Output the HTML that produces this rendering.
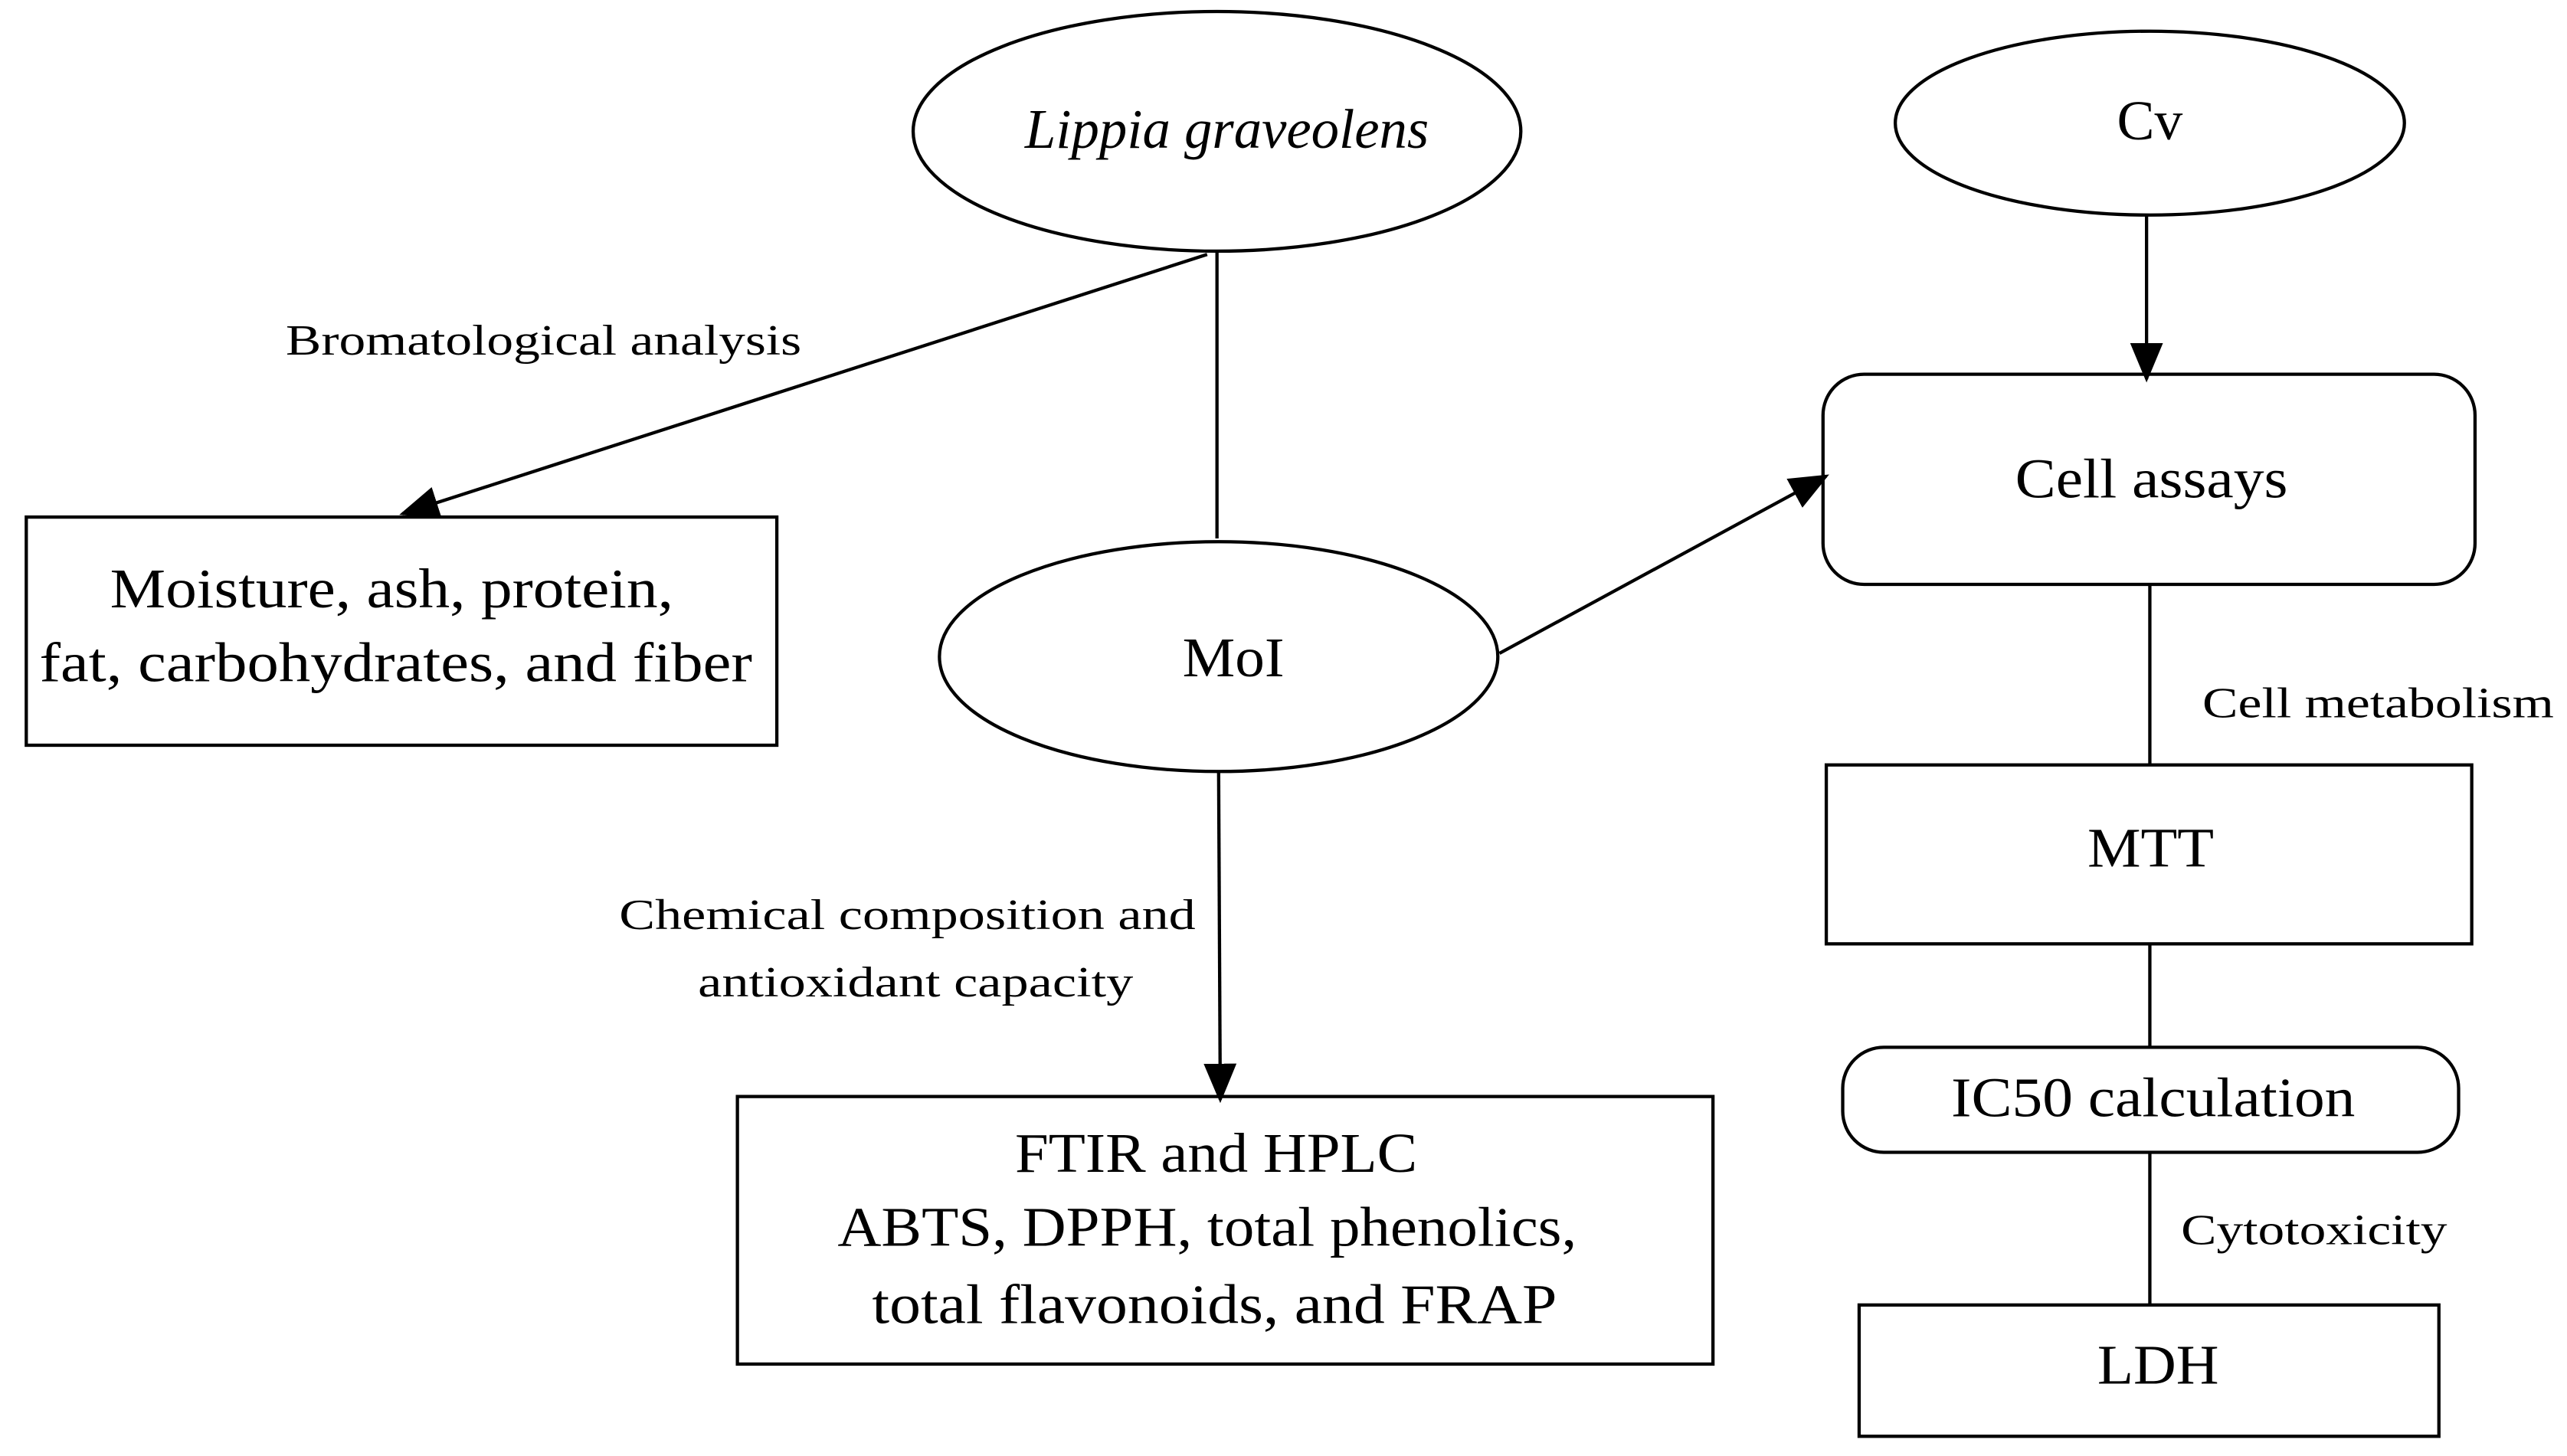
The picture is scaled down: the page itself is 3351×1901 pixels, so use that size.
<!DOCTYPE html>
<html><head><style>html,body{margin:0;padding:0;background:#fff}svg{display:block}</style></head>
<body>
<svg width="3351" height="1901" viewBox="0 0 1563 887" preserveAspectRatio="none" xmlns="http://www.w3.org/2000/svg" font-family="Liberation Serif, serif" fill="none" stroke="#000" stroke-width="2">
<defs>
<marker id="b" markerWidth="24" markerHeight="24" refX="22" refY="12" orient="auto" markerUnits="userSpaceOnUse"><path d="M0,2L24,12L0,22z" fill="#000" stroke="none"/></marker></defs>
<ellipse cx="741" cy="80" rx="185" ry="73"/>
<ellipse cx="1309" cy="75" rx="155" ry="56"/>
<ellipse cx="742" cy="400" rx="170" ry="70"/>
<line x1="741" y1="153" x2="741" y2="328"/>
<line x1="735" y1="155" x2="245" y2="313" marker-end="url(#b)"/>
<line x1="913" y1="398" x2="1112" y2="290" marker-end="url(#b)"/>
<line x1="1307" y1="131" x2="1307" y2="231" marker-end="url(#b)"/>
<line x1="742" y1="470" x2="743" y2="670" marker-end="url(#b)"/>
<rect x="16" y="315" width="457" height="139"/>
<rect x="1110" y="228" width="397" height="128" rx="25"/>
<line x1="1309" y1="356" x2="1309" y2="466"/>
<rect x="1112" y="466" width="393" height="109"/>
<line x1="1309" y1="575" x2="1309" y2="638"/>
<rect x="1122" y="638" width="375" height="64" rx="25"/>
<line x1="1309" y1="702" x2="1309" y2="795"/>
<rect x="1132" y="795" width="353" height="80"/>
<rect x="449" y="668" width="594" height="163"/>
<g fill="#000" stroke="none" font-size="34">
<text x="624" y="90" font-style="italic" textLength="246" lengthAdjust="spacingAndGlyphs">Lippia graveolens</text>
<text x="1289" y="85" textLength="40" lengthAdjust="spacingAndGlyphs">Cv</text>
<text x="720" y="412" textLength="62" lengthAdjust="spacingAndGlyphs">MoI</text>
<text x="67" y="370" textLength="343" lengthAdjust="spacingAndGlyphs">Moisture, ash, protein,</text>
<text x="24" y="415" textLength="434" lengthAdjust="spacingAndGlyphs">fat, carbohydrates, and fiber</text>
<text x="1227" y="303" textLength="166" lengthAdjust="spacingAndGlyphs">Cell assays</text>
<text x="1271" y="528" textLength="77" lengthAdjust="spacingAndGlyphs">MTT</text>
<text x="1188" y="680" textLength="246" lengthAdjust="spacingAndGlyphs">IC50 calculation</text>
<text x="1277" y="843" textLength="74" lengthAdjust="spacingAndGlyphs">LDH</text>
<text x="618" y="714" textLength="245" lengthAdjust="spacingAndGlyphs">FTIR and HPLC</text>
<text x="510" y="759" textLength="450" lengthAdjust="spacingAndGlyphs">ABTS, DPPH, total phenolics,</text>
<text x="531" y="806" textLength="417" lengthAdjust="spacingAndGlyphs">total flavonoids, and FRAP</text>
</g>
<g fill="#000" stroke="none" font-size="26">
<text x="174" y="216" textLength="314" lengthAdjust="spacingAndGlyphs">Bromatological analysis</text>
<text x="377" y="566" textLength="351" lengthAdjust="spacingAndGlyphs">Chemical composition and</text>
<text x="425" y="607" textLength="265" lengthAdjust="spacingAndGlyphs">antioxidant capacity</text>
<text x="1341" y="437" textLength="214" lengthAdjust="spacingAndGlyphs">Cell metabolism</text>
<text x="1328" y="758" textLength="162" lengthAdjust="spacingAndGlyphs">Cytotoxicity</text>
</g>
</svg>
</body></html>
